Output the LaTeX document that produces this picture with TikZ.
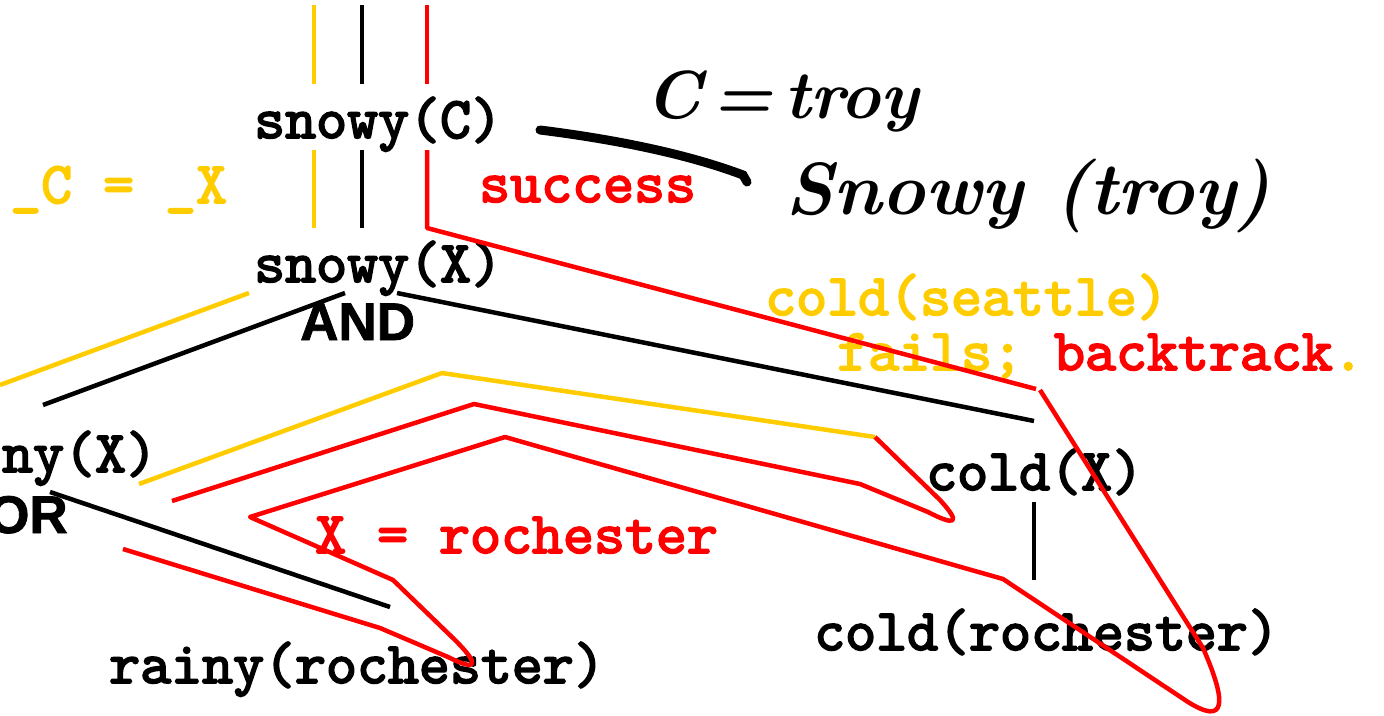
\documentclass[tikz,border=0pt]{standalone}
\usepackage{fontspec}
\newfontfamily\sansfnt{Liberation Sans}[BoldFeatures={FakeBold=1.5}]
\newfontfamily\courb{lmmono10-regular}[Extension=.otf, FakeBold=3]
\definecolor{gold}{HTML}{FFCC00}
\definecolor{myred}{HTML}{FF0000}
\begin{document}
\begin{tikzpicture}[x=1pt,y=-1pt,
  lbl/.style={inner sep=0pt, anchor=base west, font=\courb\fontsize{59}{59}\selectfont},
  opl/.style={inner sep=0pt, anchor=base west, font=\sansfnt\bfseries\fontsize{53}{53}\selectfont},
  hand/.style={inner sep=0pt, anchor=base west, font=\bfseries\itshape\fontsize{68}{68}\selectfont},
  ln/.style={line width=4.5pt},
  yl/.style={ln, draw=gold, line join=round},
  rl/.style={ln, draw=myred, line join=round},
  bl/.style={ln, draw=black}]
\useasboundingbox (0,0) rectangle (1384,715);
% texts
\node[lbl] (sc) at (254,138) {snowy(C)};
\node[lbl] (sx) at (254,282) {snowy(X)};
\node[lbl, text=myred] (succ) at (479,202) {success};
\node[lbl, text=gold] (cx) at (10,203) {\_C = \_X};
\node[lbl, text=gold] (cs) at (765,315) {cold(seattle)};
\node[lbl] (fb) at (837,370) {\textcolor{gold}{fails;} \textcolor{myred}{backtrack}\textcolor{gold}{.}};
\node[lbl] (rx) at (-91,472) {rainy(X)};
\node[opl] (or) at (-12,533) {OR};
\node[opl] (and) at (300,340) {AND};
\node[lbl, text=myred] (xr) at (315,553) {X = rochester};
\node[lbl] (cX) at (926,490) {cold(X)};
\node[lbl] (cr) at (814,650) {cold(rochester)};
\node[lbl] (rr) at (109,683) {rainy(rochester)};
% handwriting
\node[hand] (ct) at (645,118) {C\,=\,troy};
\node[hand, font=\bfseries\itshape\fontsize{74}{74}\selectfont] (st) at (785,214) {Snowy (troy)};
\draw[line width=9pt, line cap=round] (540,130) .. controls (620,140) and (690,155) .. (743,175) -- (747,182);
% coordinates
\coordinate (t1) at (314,5); \coordinate (t1b) at (314,84);
\coordinate (t2) at (362,5); \coordinate (t2b) at (362,84);
\coordinate (t3) at (427,5); \coordinate (t3b) at (427,84);
\coordinate (m1) at (314,150); \coordinate (m1b) at (314,228);
\coordinate (m2) at (362,150); \coordinate (m2b) at (362,228);
\coordinate (m3) at (427,150); \coordinate (m3b) at (427,228);
\coordinate (andl) at (345,293); \coordinate (orr) at (43,405);
\coordinate (andr) at (397,293); \coordinate (coldr) at (1034,421);
\coordinate (ort) at (50,492); \coordinate (rainb) at (390,607);
\coordinate (cxb) at (1034,502); \coordinate (crt) at (1034,580);
% vertical lines
\draw[yl] (t1) -- (t1b);
\draw[bl] (t2) -- (t2b);
\draw[rl] (t3) -- (t3b);
\draw[yl] (m1) -- (m1b);
\draw[bl] (m2) -- (m2b);
% black tree edges
\draw[bl] (andl) -- (orr);
\draw[bl] (andr) -- (coldr);
\draw[bl] (ort) -- (rainb);
\draw[bl] (cxb) -- (crt);
% yellow traces
\draw[yl] (249,293) -- (0,385);
\draw[yl] (139,484) -- (442,373) -- (875,437);
% red traces
\draw[rl] (m3) -- (m3b) -- (1036,389);
\draw[rl] (875,437) -- (940,500) .. controls (962,524) and (955,526) .. (928,512) -- (860,484) -- (474,404) -- (172,501);
\draw[rl] (1040,390) -- (1203,648) .. controls (1228,705) and (1225,725) .. (1188,702) -- (1003,579) -- (505,437) -- (250,517) -- (393,580) -- (455,640) .. controls (480,665) and (478,672) .. (448,657) -- (380,628) -- (123,549);
\end{tikzpicture}
\end{document}
